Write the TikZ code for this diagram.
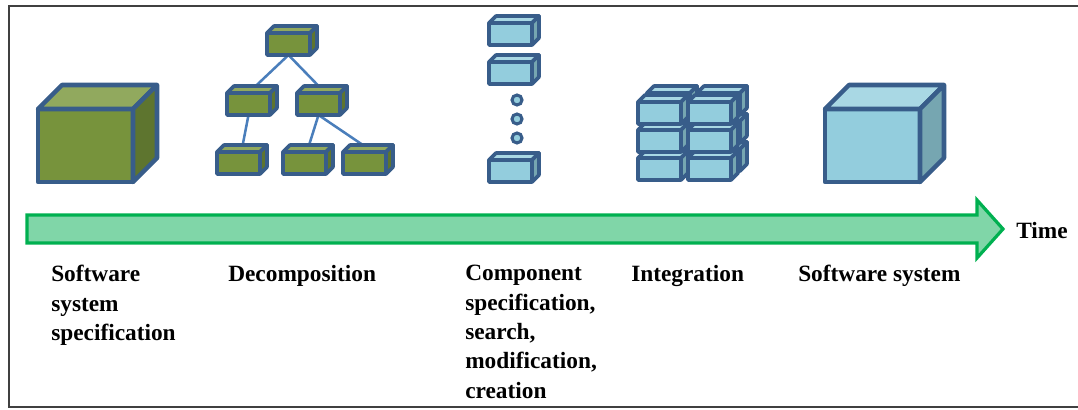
\documentclass[tikz,border=0pt]{standalone}
\usepackage{fontspec}
\setmainfont{Liberation Serif}
\usetikzlibrary{calc}
\pgfdeclarelayer{bg}
\pgfsetlayers{bg,main}
\definecolor{boxline}{HTML}{385D8A}
\definecolor{gfront}{HTML}{77933C}
\definecolor{gtop}{HTML}{91A95E}
\definecolor{gside}{HTML}{5E752F}
\definecolor{bfront}{HTML}{93CDDD}
\definecolor{btop}{HTML}{A9D8E4}
\definecolor{bside}{HTML}{76A6B1}
\definecolor{connblue}{HTML}{4A7EBB}
\definecolor{arrowline}{HTML}{00B050}
\definecolor{arrowfill}{HTML}{80D6A8}
\definecolor{framecol}{HTML}{404040}
\tikzset{
  boxnode/.style={draw=boxline, line width=2.7pt, inner sep=0pt, outer sep=0pt, anchor=north west, line join=round},
  smallbox/.style={boxnode, minimum width=32.25pt, minimum height=16.5pt},
  bigbox/.style={boxnode, line width=3.4pt, minimum width=71.25pt, minimum height=54.75pt},
  face/.style={draw=boxline, line join=round},
  lbl/.style={font=\fontsize{17.5}{22}\selectfont\bfseries, align=left, anchor=north west, inner sep=0pt},
  conn/.style={draw=connblue, line width=1.9pt},
  dotnode/.style={circle, draw=boxline, line width=2.3pt, fill=bfront, minimum size=7.5pt, inner sep=0pt},
  framestyle/.style={draw=framecol, line width=1.5pt},
  timearrow/.style={draw=arrowline, fill=arrowfill, line width=2.4pt, line join=miter}
}
% name, depth, top colour, side colour, line width
\newcommand\boxfaces[5]{%
  \filldraw[face, line width=#5, fill=#3] (#1.north west) -- ++(#2,-#2) -- ($(#1.north east)+(#2,-#2)$) -- (#1.north east) -- cycle;
  \filldraw[face, line width=#5, fill=#4] (#1.north east) -- ++(#2,-#2) -- ($(#1.south east)+(#2,-#2)$) -- (#1.south east) -- cycle;
}
\newcommand\gsmall[3]{\node[smallbox, fill=gfront] (#1) at (#2,#3) {}; \boxfaces{#1}{7}{gtop}{gside}{2.7pt}}
\newcommand\bsmall[3]{\node[smallbox, fill=bfront] (#1) at (#2,#3) {}; \boxfaces{#1}{7}{btop}{bside}{2.7pt}}
\begin{document}
\begin{tikzpicture}[x=0.75pt, y=-0.75pt]
\useasboundingbox (0,0) rectangle (1078,410);
% frame
\draw[framestyle] (1078,6) -- (8.5,6) -- (8.5,407) -- (1078,407);

% big green cube
\node[bigbox, fill=gfront] (spec) at (38,109) {};
\boxfaces{spec}{24}{gtop}{gside}{3.4pt}

% decomposition tree
\gsmall{t}{267}{33}
\gsmall{m1}{227}{93}
\gsmall{m2}{297}{93}
\gsmall{b1}{217}{152}
\gsmall{b2}{283}{152}
\gsmall{b3}{343}{152}
\begin{pgfonlayer}{bg}
  \draw[conn] (t.south) -- ($(m1.north)+(3.5,-3.5)$);
  \draw[conn] (t.south) -- ($(m2.north)+(3.5,-3.5)$);
  \draw[conn] (m1.south) -- ($(b1.north)+(3.5,-3.5)$);
  \draw[conn] (m2.south) -- ($(b2.north)+(3.5,-3.5)$);
  \draw[conn] (m2.south) -- ($(b3.north)+(3.5,-3.5)$);
\end{pgfonlayer}

% component column
\bsmall{c1}{489}{23}
\bsmall{c2}{489}{62}
\node[dotnode] (d1) at (517,100) {};
\node[dotnode] (d2) at (517,119) {};
\node[dotnode] (d3) at (517,138) {};
\bsmall{c3}{489}{160}

% integration block: back layer
\bsmall{ib5}{647}{149}
\bsmall{ib6}{697}{149}
\bsmall{ib3}{647}{121}
\bsmall{ib4}{697}{121}
\bsmall{ib1}{647}{93}
\bsmall{ib2}{697}{93}
% front layer
\bsmall{if5}{638}{158}
\bsmall{if6}{688}{158}
\bsmall{if3}{638}{130}
\bsmall{if4}{688}{130}
\bsmall{if1}{638}{102}
\bsmall{if2}{688}{102}

% big blue cube
\node[bigbox, fill=bfront] (sys) at (825,109) {};
\boxfaces{sys}{24}{btop}{bside}{3.4pt}

% time arrow
\draw[timearrow] (27,215) -- (977,215) -- (977,200) -- (1003,229) -- (977,258) -- (977,243) -- (27,243) -- cycle;
\node[font=\fontsize{17.5}{22}\selectfont\bfseries, anchor=west, inner sep=0pt] (time) at (1016,231) {Time};

% labels
\node[lbl] (l1) at (51,265) {Software\\system\\specification};
\node[lbl] (l2) at (228,265) {Decomposition};
\node[lbl] (l3) at (465,265) {Component\\specification,\\search,\\modification,\\creation};
\node[lbl] (l4) at (631,265) {Integration};
\node[lbl] (l5) at (798,265) {Software system};
\end{tikzpicture}
\end{document}
